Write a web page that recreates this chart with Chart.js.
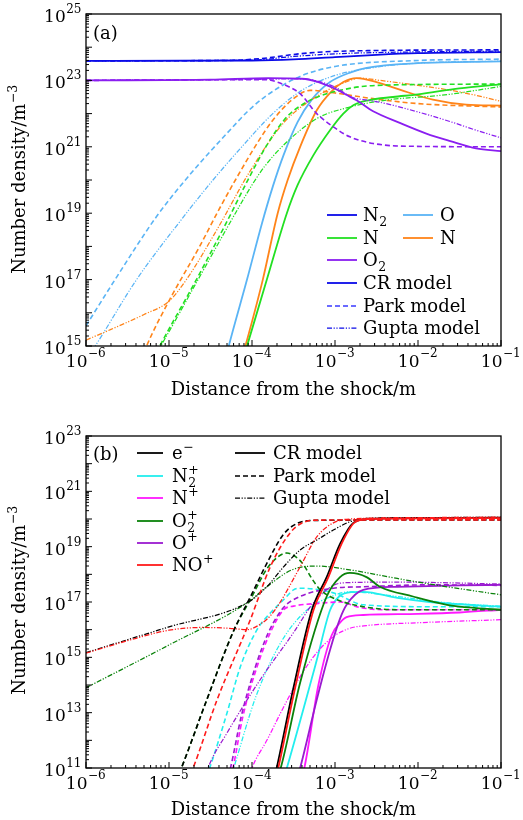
<!DOCTYPE html>
<html><head><meta charset="utf-8">
<script src="https://cdn.jsdelivr.net/npm/chart.js@4.4.0/dist/chart.umd.min.js"></script>
<style>html,body{margin:0;padding:0;background:#fff;} .wrap{position:relative;width:523px;height:410px;} canvas{display:block;}</style>
</head><body>
<div class="wrap"><canvas id="ca" width="523" height="410"></canvas></div>
<div class="wrap"><canvas id="cb" width="523" height="410"></canvas></div>
<script>
// ---------- axis ranges / tick labels ----------
const X_MIN = 1e-6, X_MAX = 1e-1;
const X_TICK_EXPS = [-6, -5, -4, -3, -2, -1];
const A_Y_MIN = 1e15, A_Y_MAX = 1e25;
const A_Y_LABEL_EXPS = [15, 17, 19, 21, 23, 25];
const B_Y_MIN = 1e11, B_Y_MAX = 1e23;
const B_Y_LABEL_EXPS = [11, 13, 15, 17, 19, 21, 23];

// ---------- panel (a): neutral species, [distance m, number density m^-3] ----------
const A_N2_CR = [[1e-6,3.89e23],[1e-4,3.98e23],[3.16e-4,4.27e23],[1e-3,5.01e23],[3.16e-3,5.89e23],[1e-2,6.61e23],[1e-1,7.08e23]];
const A_N2_Park = [[1e-6,3.89e23],[5.01e-5,3.98e23],[1.58e-4,4.79e23],[3.16e-4,6.03e23],[6.31e-4,7.08e23],[3.16e-3,7.94e23],[1e-1,8.32e23]];
const A_N2_Gupta = [[1e-6,3.89e23],[1e-4,4.07e23],[3.16e-4,5.25e23],[1e-3,6.31e23],[1e-2,7.24e23],[1e-1,7.59e23]];

const A_N_CR = [[7.59e-5,3.16e14],[8.71e-5,1e15],[1.51e-4,1e17],[2.63e-4,1e19],[3.55e-4,7.08e19],[5.5e-4,5.62e20],[8.71e-4,3.16e21],[1.26e-3,1e22],[1.66e-3,1.78e22],[2.51e-3,2.51e22],[5.01e-3,3.16e22],[1e-2,3.8e22],[3.16e-2,5.75e22],[1e-1,7.59e22]];
const A_N_Park = [[7.08e-6,6.31e14],[7.76e-6,1e15],[2.14e-5,1e17],[5.62e-5,1e19],[8.71e-5,8.91e19],[1.51e-4,1.12e21],[2.63e-4,7.94e21],[5.01e-4,2.51e22],[1.26e-3,5.25e22],[3.16e-3,7.08e22],[1e-1,7.76e22]];
const A_N_Gupta = [[7.08e-6,6.31e14],[7.94e-6,1e15],[2.24e-5,1e17],[6.31e-5,1e19],[1e-4,7.08e19],[1.41e-4,2.51e20],[2.4e-4,1.12e21],[6.03e-4,7.08e21],[1.51e-3,1.58e22],[3.98e-3,2.51e22],[2.24e-2,3.72e22],[5.01e-2,5.01e22],[1e-1,6.61e22]];

const A_O2_CR = [[1e-6,1e23],[3.16e-5,1.05e23],[1.58e-4,1.17e23],[3.98e-4,1.12e23],[6.31e-4,8.91e22],[1e-3,5.62e22],[1.41e-3,3.55e22],[1.82e-3,2.51e22],[2.88e-3,1.17e22],[6.03e-3,5.25e21],[1.26e-2,2.51e21],[2.45e-2,1.48e21],[5.01e-2,8.91e20],[1e-1,7.41e20]];
const A_O2_Park = [[1e-6,1e23],[6.31e-5,1.05e23],[1.51e-4,1.05e23],[2e-4,8.91e22],[2.82e-4,6.31e22],[3.8e-4,3.98e22],[6.03e-4,1e22],[9.55e-4,3.98e21],[1.51e-3,2e21],[2.88e-3,1.26e21],[6.31e-3,1.05e21],[1e-1,1e21]];
const A_O2_Gupta = [[1e-6,1e23],[1e-4,1.07e23],[3.98e-4,1.12e23],[6.31e-4,9.33e22],[1e-3,6.31e22],[1.58e-3,3.16e22],[2.51e-3,2.51e22],[3.8e-3,2.09e22],[1e-2,1.12e22],[2.51e-2,5.62e21],[5.01e-2,3.16e21],[1e-1,1.86e21]];

const A_O_CR = [[4.47e-5,2e14],[5.25e-5,1e15],[8.71e-5,1e17],[1.32e-4,5.01e18],[1.78e-4,6.31e19],[2.4e-4,5.62e20],[3.55e-4,5.62e21],[5.25e-4,2.63e22],[8.71e-4,8.91e22],[1.58e-3,1.78e23],[2.4e-3,2.4e23],[1e-2,3.31e23],[1e-1,3.72e23]];
const A_O_Park = [[1e-6,4.07e15],[2.24e-6,1e17],[7.08e-6,7.94e18],[1.7e-5,1.26e20],[3.39e-5,8.91e20],[5.89e-5,3.98e21],[8.71e-5,1.12e22],[1.51e-4,3.55e22],[3.8e-4,1.32e23],[1e-3,2.63e23],[1e-2,3.98e23],[1e-1,4.37e23]];
const A_O_Gupta = [[1e-6,3.98e14],[1.29e-6,1e15],[4.07e-6,1e17],[1.62e-5,1e19],[3.39e-5,1e20],[7.24e-5,8.91e20],[1.78e-4,1e22],[3.98e-4,5.01e22],[1e-3,1.41e23],[3.16e-3,2.51e23],[1e-2,3.31e23],[1e-1,3.8e23]];

const A_NO_CR = [[7.08e-5,2.51e14],[8.32e-5,1e15],[1.35e-4,1e17],[2.04e-4,1e19],[2.69e-4,1e20],[3.8e-4,1e21],[6.03e-4,1.26e22],[8.91e-4,4.47e22],[1.26e-3,8.91e22],[1.82e-3,1.17e23],[3.16e-3,8.91e22],[6.03e-3,5.25e22],[1.51e-2,2.63e22],[3.8e-2,1.86e22],[1e-1,1.74e22]];
const A_NO_Park = [[5.01e-6,6.31e14],[5.37e-6,1e15],[1.02e-5,2.51e16],[2.34e-5,1e18],[3.98e-5,1.26e19],[6.31e-5,1e20],[1.15e-4,1.26e21],[1.78e-4,6.31e21],[3.16e-4,2.82e22],[5.01e-4,5.01e22],[1e-3,4.17e22],[2.88e-3,2.82e22],[1e-2,2e22],[1e-1,1.58e22]];
const A_NO_Gupta = [[1e-6,1.51e15],[2e-6,3.16e15],[5.01e-6,8.91e15],[1e-5,2.24e16],[1.62e-5,1e17],[3.98e-5,3.98e18],[9.12e-5,1.58e20],[2.4e-4,5.25e21],[6.03e-4,3.31e22],[1.26e-3,8.32e22],[2e-3,1.17e23],[3.47e-3,1e23],[1e-2,7.08e22],[2.24e-2,5.25e22],[5.01e-2,3.55e22],[1e-1,2.34e22]];

// ---------- panel (b): charged species ----------
const B_e_CR = [[1.91e-4,6.31e10],[2e-4,1.12e11],[3.16e-4,7.94e13],[5.25e-4,5.01e16],[7.94e-4,7.94e17],[1.15e-3,1.26e19],[1.66e-3,7.24e19],[2.51e-3,1e20],[1e-2,1.07e20],[1e-1,1.12e20]];
const B_e_Park = [[1.32e-5,6.31e10],[1.41e-5,1e11],[2.88e-5,3.16e13],[5.89e-5,7.94e15],[1e-4,2e17],[1.51e-4,2.51e18],[2.4e-4,2.82e19],[3.55e-4,7.08e19],[5.62e-4,8.91e19],[1e-1,9.33e19]];
const B_e_Gupta = [[1e-6,1.48e15],[1e-5,1.26e16],[8.71e-5,9.33e16],[1.51e-4,3.55e17],[2.4e-4,1.86e18],[3.8e-4,7.59e18],[6.03e-4,1.74e19],[9.55e-4,3.98e19],[1.51e-3,7.94e19],[2.4e-3,1.05e20],[1e-2,1.12e20],[1e-1,1.15e20]];

const B_N2p_CR = [[2.51e-4,6.31e10],[2.63e-4,1e11],[6.03e-4,7.94e14],[8.71e-4,5.01e16],[1.12e-3,1.58e17],[1.58e-3,2.29e17],[2.19e-3,2.34e17],[5.62e-3,1.41e17],[1.38e-2,1e17],[3.98e-2,7.94e16],[1e-1,6.76e16]];
const B_N2p_Park = [[2.82e-5,5.01e10],[3.09e-5,1e11],[5.01e-5,1e13],[7.24e-5,4.57e14],[1.15e-4,1e16],[1.66e-4,3.98e16],[2.4e-4,1.2e17],[3.16e-4,2.75e17],[3.8e-4,3.16e17],[9.55e-4,2.14e17],[2.19e-3,7.94e16],[1.38e-2,6.76e16],[1e-1,6.76e16]];
const B_N2p_Gupta = [[5.62e-5,5.01e10],[6.03e-5,1e11],[1.12e-4,3.98e13],[2.24e-4,3.55e15],[4.37e-4,4.47e16],[1e-3,1.78e17],[1.51e-3,2.34e17],[5.62e-3,1.58e17],[2.24e-2,9.33e16],[1e-1,7.08e16]];

const B_Np_CR = [[4.07e-4,6.31e10],[4.27e-4,1e11],[6.31e-4,1e14],[9.12e-4,6.31e15],[1.15e-3,1.78e16],[1.38e-3,2.82e16],[2.19e-3,3.39e16],[1e-2,3.72e16],[3.16e-2,4.17e16],[1e-1,5.25e16]];
const B_Np_Park = [[5.5e-5,5.01e10],[5.89e-5,1e11],[7.76e-5,7.24e12],[1.15e-4,4.57e14],[1.66e-4,7.76e15],[2.4e-4,5.25e16],[3.16e-4,7.08e16],[6.31e-4,8.91e16],[1.15e-3,1e17],[2e-3,6.31e16],[3.98e-3,5.25e16],[1e-1,5.25e16]];
const B_Np_Gupta = [[9.33e-5,5.01e10],[1e-4,1e11],[1.51e-4,1e12],[2.4e-4,1.58e13],[3.8e-4,2e14],[6.03e-4,1.48e15],[9.55e-4,5.62e15],[1.51e-3,1.12e16],[2.4e-3,1.41e16],[1e-2,1.78e16],[1e-1,2.29e16]];

const B_O2p_CR = [[2.09e-4,6.31e10],[2.24e-4,1.12e11],[3.8e-4,1.2e14],[7.94e-4,1.58e17],[1.15e-3,7.94e17],[1.51e-3,1.12e18],[2.4e-3,7.94e17],[3.47e-3,3.55e17],[8.71e-3,1.58e17],[2.24e-2,7.94e16],[5.01e-2,6.03e16],[1e-1,5.25e16]];
const B_O2p_Park = [[1.32e-5,6.31e10],[1.41e-5,1e11],[2.88e-5,3.16e13],[5.89e-5,7.94e15],[1e-4,1.58e17],[1.51e-4,1.58e18],[2.09e-4,4.47e18],[2.63e-4,5.89e18],[3.31e-4,4.47e18],[4.17e-4,2.24e18],[5.25e-4,7.08e17],[6.61e-4,2.82e17],[8.71e-4,1.58e17],[1.26e-3,1e17],[2.19e-3,6.76e16],[5.62e-3,5.25e16],[1e-1,5.25e16]];
const B_O2p_Gupta = [[1e-6,7.94e13],[9.33e-6,2.51e15],[8.71e-5,9.33e16],[1.51e-4,3.55e17],[3.02e-4,1.45e18],[6.03e-4,2e18],[1.51e-3,1.45e18],[5.62e-3,7.08e17],[2.24e-2,3.55e17],[1e-1,1.82e17]];

const B_Op_CR = [[3.63e-4,6.31e10],[3.8e-4,1e11],[6.03e-4,2.95e13],[8.71e-4,1.86e15],[1.15e-3,2.51e16],[1.38e-3,7.94e16],[2.19e-3,2.75e17],[5.62e-3,3.55e17],[3.16e-2,3.98e17],[1e-1,4.17e17]];
const B_Op_Park = [[5.13e-5,5.01e10],[5.5e-5,1e11],[7.41e-5,7.24e12],[1.1e-4,4.57e14],[1.58e-4,7.94e15],[2.4e-4,6.31e16],[3.8e-4,1.58e17],[9.55e-4,3.16e17],[2.19e-3,3.55e17],[1.38e-2,4.17e17],[1e-1,3.98e17]];
const B_Op_Gupta = [[2.75e-5,5.01e10],[2.95e-5,1e11],[5.01e-5,1.86e12],[1.26e-4,1.58e14],[3.16e-4,7.76e15],[5.5e-4,9.33e16],[9.55e-4,3.98e17],[1.38e-3,5.01e17],[5.62e-3,5.25e17],[1e-1,4.47e17]];

const B_NOp_CR = [[2e-4,6.31e10],[2.09e-4,1.12e11],[3.31e-4,7.94e13],[5.5e-4,5.01e16],[8.32e-4,7.94e17],[1.2e-3,1.26e19],[1.7e-3,7.24e19],[2.51e-3,1e20],[1e-1,1.07e20]];
const B_NOp_Park = [[1.82e-5,6.31e10],[1.95e-5,1e11],[3.8e-5,2.95e13],[9.55e-5,2.29e16],[1.66e-4,1.86e18],[2.88e-4,3.16e19],[4.17e-4,7.59e19],[6.31e-4,9.12e19],[1e-1,9.33e19]];
const B_NOp_Gupta = [[1e-6,1.41e15],[3.16e-6,3.98e15],[1e-5,9.55e15],[2.51e-5,1.2e16],[5.37e-5,1.12e16],[8.71e-5,1e16],[1.26e-4,1.58e16],[1.66e-4,3.16e16],[2.09e-4,7.94e16],[3.8e-4,1.86e18],[6.03e-4,2.24e19],[9.55e-4,7.24e19],[1.51e-3,1e20],[1e-2,1.12e20],[1e-1,1.17e20]];

// ---------- styles ----------
const FONT = '"DejaVu Serif", serif';
const COL_A = {N2:'#0a0ae8', N:'#22e022', O2:'#8a1ef0', O:'#5ab4f5', NO:'#ff8419'};
const COL_B = {e:'#000000', N2p:'#22eeee', Np:'#ff18ff', O2p:'#0a820a', Op:'#9a1ad0', NOp:'#ff1a1a'};
const DASH = {CR: [], Park: [5, 3], Gupta: [5, 1.6, 1.2, 1.6, 1.2, 1.6]};
const LW = {CR: 1.8, Park: 1.6, Gupta: 1.25};

function drawRich(ctx, parts, x, y, size, align, opt) {
  opt = opt || {};
  const supR = opt.supRaise != null ? opt.supRaise : size * 0.42;
  const subD = opt.subDrop != null ? opt.subDrop : size * 0.25;
  const ss = opt.small != null ? opt.small : size * 0.7;
  const segs = []; let w = 0;
  for (const p of parts) {
    ctx.font = size + 'px ' + FONT;
    const bw = ctx.measureText(p.t).width;
    ctx.font = ss + 'px ' + FONT;
    let ew = 0;
    if (p.sup) ew = Math.max(ew, ctx.measureText(p.sup).width + 1);
    if (p.sub) ew = Math.max(ew, ctx.measureText(p.sub).width + 1);
    segs.push({p, bw, ew}); w += bw + ew;
  }
  let cx = align === 'center' ? x - w / 2 : align === 'right' ? x - w : x;
  ctx.textAlign = 'left'; ctx.textBaseline = 'alphabetic';
  for (const s of segs) {
    ctx.font = size + 'px ' + FONT;
    ctx.fillText(s.p.t, cx, y); cx += s.bw;
    ctx.font = ss + 'px ' + FONT;
    if (s.p.sup) ctx.fillText(s.p.sup, cx + 0.5, y - supR);
    if (s.p.sub) ctx.fillText(s.p.sub, cx + 0.5, y + subD);
    cx += s.ew;
  }
}

function sampleLine(ctx, x1, x2, y, color, model) {
  ctx.save();
  ctx.strokeStyle = color; ctx.lineWidth = LW[model]; ctx.setLineDash(DASH[model]);
  ctx.beginPath(); ctx.moveTo(x1, y); ctx.lineTo(x2, y); ctx.stroke();
  ctx.restore();
}

function decor(cfg) {
  return {
    id: 'decor',
    afterDraw(chart) {
      const {ctx, chartArea: a} = chart;
      const xs = chart.scales.x, ys = chart.scales.y;
      ctx.save();
      ctx.fillStyle = '#000'; ctx.strokeStyle = '#000';
      ctx.lineWidth = 1.3; ctx.setLineDash([]);
      ctx.strokeRect(a.left, a.top, a.right - a.left, a.bottom - a.top);
      ctx.lineWidth = 1;
      ctx.beginPath();
      for (let k = X_TICK_EXPS[0]; k <= X_TICK_EXPS[X_TICK_EXPS.length - 1]; k++) {
        for (let m = 1; m <= 9; m++) {
          const v = m * Math.pow(10, k);
          if (v > X_MAX * 1.0001) break;
          const px = xs.getPixelForValue(v);
          const len = m === 1 ? 6 : 3;
          ctx.moveTo(px, a.bottom); ctx.lineTo(px, a.bottom - len);
        }
      }
      const e0 = Math.round(Math.log10(cfg.yMin)), e1 = Math.round(Math.log10(cfg.yMax));
      for (let k = e0; k <= e1; k++) {
        for (let m = 1; m <= 9; m++) {
          const v = m * Math.pow(10, k);
          if (v > cfg.yMax * 1.0001) break;
          const py = ys.getPixelForValue(v);
          const len = m === 1 ? 6 : 3;
          ctx.moveTo(a.left, py); ctx.lineTo(a.left + len, py);
        }
      }
      ctx.stroke();
      for (const k of X_TICK_EXPS) {
        const px = xs.getPixelForValue(Math.pow(10, k));
        drawRich(ctx, [{t: '10', sup: '\u2212' + (-k)}], px, a.bottom + 21, 17, 'center', {supRaise: 10, small: 12});
      }
      for (const k of cfg.yLabelExps) {
        const py = ys.getPixelForValue(Math.pow(10, k));
        drawRich(ctx, [{t: '10', sup: String(k)}], a.left - 4, py + 8, 17, 'right', {supRaise: 9, small: 12});
      }
      drawRich(ctx, [{t: 'Distance from the shock/m'}], (a.left + a.right) / 2, cfg.xTitleY, 18, 'center');
      ctx.save();
      ctx.translate(25, (a.top + a.bottom) / 2 + cfg.yTitleShift);
      ctx.rotate(-Math.PI / 2);
      drawRich(ctx, [{t: 'Number density/m', sup: '\u22123'}], 0, 0, 18, 'center', {supRaise: 8, small: 12.5});
      ctx.restore();
      drawRich(ctx, [{t: cfg.panel}], a.left + 7, cfg.panelY, 18, 'left');
      for (const col of cfg.legend) {
        col.items.forEach((it, i) => {
          const y = col.rows[i];
          sampleLine(ctx, col.x1, col.x2, y, it.color, it.model);
          ctx.fillStyle = '#000';
          drawRich(ctx, it.parts, col.tx, y + 6, 18, 'left', {supRaise: 8, subDrop: 5, small: 12.5});
        });
      }
      ctx.restore();
    }
  };
}

function buildChart(id, cfg) {
  const datasets = cfg.series.map(s => ({
    label: s.label,
    data: s.data.map(p => ({x: p[0], y: p[1]})),
    borderColor: s.color, backgroundColor: s.color,
    borderWidth: LW[s.model], borderDash: DASH[s.model],
    pointRadius: 0, pointHoverRadius: 0, fill: false,
    cubicInterpolationMode: 'monotone'
  }));
  return new Chart(document.getElementById(id), {
    type: 'line',
    data: {datasets},
    options: {
      responsive: false, animation: false, events: [],
      layout: {padding: {left: 0, right: 22, top: cfg.padTop, bottom: 0}},
      plugins: {legend: {display: false}, tooltip: {enabled: false}},
      scales: {
        x: {type: 'logarithmic', min: X_MIN, max: X_MAX, grid: {display: false}, border: {display: false},
            ticks: {display: false}, afterFit(s) { s.height = cfg.xH; }},
        y: {type: 'logarithmic', min: cfg.yMin, max: cfg.yMax, grid: {display: false}, border: {display: false},
            ticks: {display: false}, afterFit(s) { s.width = 86; }}
      }
    },
    plugins: [decor(cfg)]
  });
}

const sub = (b, s) => [{t: b, sub: s}];

buildChart('ca', {
  yMin: A_Y_MIN, yMax: A_Y_MAX, yLabelExps: A_Y_LABEL_EXPS,
  padTop: 14, xH: 64, xTitleY: 395, yTitleShift: -1, panel: '(a)', panelY: 39,
  series: [
    {label: 'N2 CR', data: A_N2_CR, color: COL_A.N2, model: 'CR'},
    {label: 'N2 Park', data: A_N2_Park, color: COL_A.N2, model: 'Park'},
    {label: 'N2 Gupta', data: A_N2_Gupta, color: COL_A.N2, model: 'Gupta'},
    {label: 'O2 CR', data: A_O2_CR, color: COL_A.O2, model: 'CR'},
    {label: 'O2 Park', data: A_O2_Park, color: COL_A.O2, model: 'Park'},
    {label: 'O2 Gupta', data: A_O2_Gupta, color: COL_A.O2, model: 'Gupta'},
    {label: 'N CR', data: A_N_CR, color: COL_A.N, model: 'CR'},
    {label: 'N Park', data: A_N_Park, color: COL_A.N, model: 'Park'},
    {label: 'N Gupta', data: A_N_Gupta, color: COL_A.N, model: 'Gupta'},
    {label: 'NO CR', data: A_NO_CR, color: COL_A.NO, model: 'CR'},
    {label: 'NO Park', data: A_NO_Park, color: COL_A.NO, model: 'Park'},
    {label: 'NO Gupta', data: A_NO_Gupta, color: COL_A.NO, model: 'Gupta'},
    {label: 'O CR', data: A_O_CR, color: COL_A.O, model: 'CR'},
    {label: 'O Park', data: A_O_Park, color: COL_A.O, model: 'Park'},
    {label: 'O Gupta', data: A_O_Gupta, color: COL_A.O, model: 'Gupta'}
  ],
  legend: [
    {x1: 327, x2: 357, tx: 363, rows: [215, 238, 260, 283, 306, 328], items: [
      {parts: sub('N', '2'), color: COL_A.N2, model: 'CR'},
      {parts: [{t: 'N'}], color: COL_A.N, model: 'CR'},
      {parts: sub('O', '2'), color: COL_A.O2, model: 'CR'},
      {parts: [{t: 'CR model'}], color: COL_A.N2, model: 'CR'},
      {parts: [{t: 'Park model'}], color: '#3a3aff', model: 'Park'},
      {parts: [{t: 'Gupta model'}], color: COL_A.N2, model: 'Gupta'}
    ]},
    {x1: 403, x2: 433, tx: 440, rows: [215, 238], items: [
      {parts: [{t: 'O'}], color: COL_A.O, model: 'CR'},
      {parts: [{t: 'N'}], color: COL_A.NO, model: 'CR'}
    ]}
  ]
});

buildChart('cb', {
  yMin: B_Y_MIN, yMax: B_Y_MAX, yLabelExps: B_Y_LABEL_EXPS,
  padTop: 26, xH: 52, xTitleY: 405, yTitleShift: -2, panel: '(b)', panelY: 50,
  series: [
    {label: 'NO+ CR', data: B_NOp_CR, color: COL_B.NOp, model: 'CR'},
    {label: 'NO+ Park', data: B_NOp_Park, color: COL_B.NOp, model: 'Park'},
    {label: 'NO+ Gupta', data: B_NOp_Gupta, color: COL_B.NOp, model: 'Gupta'},
    {label: 'e CR', data: B_e_CR, color: COL_B.e, model: 'CR'},
    {label: 'e Park', data: B_e_Park, color: COL_B.e, model: 'Park'},
    {label: 'e Gupta', data: B_e_Gupta, color: COL_B.e, model: 'Gupta'},
    {label: 'O2+ CR', data: B_O2p_CR, color: COL_B.O2p, model: 'CR'},
    {label: 'O2+ Park', data: B_O2p_Park, color: COL_B.O2p, model: 'Park'},
    {label: 'O2+ Gupta', data: B_O2p_Gupta, color: COL_B.O2p, model: 'Gupta'},
    {label: 'O+ CR', data: B_Op_CR, color: COL_B.Op, model: 'CR'},
    {label: 'O+ Park', data: B_Op_Park, color: COL_B.Op, model: 'Park'},
    {label: 'O+ Gupta', data: B_Op_Gupta, color: COL_B.Op, model: 'Gupta'},
    {label: 'N+ CR', data: B_Np_CR, color: COL_B.Np, model: 'CR'},
    {label: 'N+ Park', data: B_Np_Park, color: COL_B.Np, model: 'Park'},
    {label: 'N+ Gupta', data: B_Np_Gupta, color: COL_B.Np, model: 'Gupta'},
    {label: 'N2+ CR', data: B_N2p_CR, color: COL_B.N2p, model: 'CR'},
    {label: 'N2+ Park', data: B_N2p_Park, color: COL_B.N2p, model: 'Park'},
    {label: 'N2+ Gupta', data: B_N2p_Gupta, color: COL_B.N2p, model: 'Gupta'}
  ],
  legend: [
    {x1: 137, x2: 163, tx: 172, rows: [43, 66, 88, 111, 133, 155], items: [
      {parts: [{t: 'e', sup: '\u2212'}], color: COL_B.e, model: 'CR'},
      {parts: [{t: 'N', sub: '2', sup: '+'}], color: COL_B.N2p, model: 'CR'},
      {parts: [{t: 'N', sup: '+'}], color: COL_B.Np, model: 'CR'},
      {parts: [{t: 'O', sub: '2', sup: '+'}], color: COL_B.O2p, model: 'CR'},
      {parts: [{t: 'O', sup: '+'}], color: COL_B.Op, model: 'CR'},
      {parts: [{t: 'NO', sup: '+'}], color: COL_B.NOp, model: 'CR'}
    ]},
    {x1: 235, x2: 265, tx: 273, rows: [43, 66, 88], items: [
      {parts: [{t: 'CR model'}], color: '#000', model: 'CR'},
      {parts: [{t: 'Park model'}], color: '#000', model: 'Park'},
      {parts: [{t: 'Gupta model'}], color: '#000', model: 'Gupta'}
    ]}
  ]
});
</script>
</body></html>
